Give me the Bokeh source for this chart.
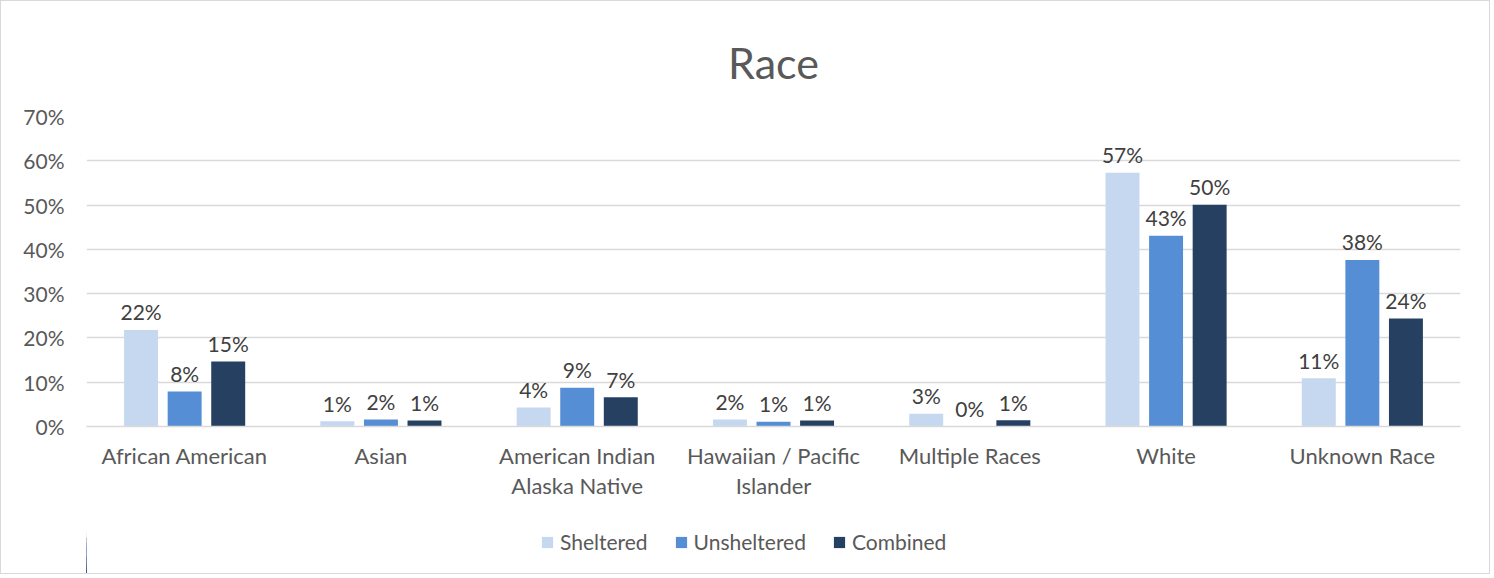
from bokeh.plotting import figure
from bokeh.layouts import column
from bokeh.models import (ColumnDataSource, Range1d, NumeralTickFormatter,
                          Legend, LegendItem, FixedTicker, LinearAxis)
from bokeh.transform import dodge
from bokeh.core.properties import value
from bokeh.embed import file_html
from bokeh.resources import INLINE

categories = ["African American", "Asian", "American Indian Alaska Native",
              "Hawaiian / Pacific Islander", "Multiple Races", "White", "Unknown Race"]
label_line1 = ["African American", "Asian", "American Indian",
               "Hawaiian / Pacific", "Multiple Races", "White", "Unknown Race"]
label_line2 = ["", "", "Alaska Native", "Islander", "", "", ""]
sheltered = [0.218, 0.012, 0.043, 0.016, 0.029, 0.573, 0.109]
unsheltered = [0.079, 0.016, 0.0875, 0.011, 0.0, 0.431, 0.376]
combined = [0.147, 0.0135, 0.066, 0.0135, 0.014, 0.501, 0.244]
series_names = ["Sheltered", "Unsheltered", "Combined"]
y_ticks = [0.0, 0.1, 0.2, 0.3, 0.4, 0.5, 0.6, 0.7]

colors = ["#c5d8f0", "#558ed5", "#264061"]
FONT = "Lato"
TXT = "#595959"
BORDER = "1px solid #d9d9d9"

def pct(v):
    return f"{int(v * 100 + 0.5)}%"

# category slot centres on a numeric axis (one unit per category)
centers = [i + 0.5 for i in range(len(categories))]

src = ColumnDataSource(dict(
    cat=categories, pos=centers,
    sheltered=sheltered, unsheltered=unsheltered, combined=combined,
    sheltered_lbl=[pct(v) for v in sheltered],
    unsheltered_lbl=[pct(v) for v in unsheltered],
    combined_lbl=[pct(v) for v in combined],
))

p = figure(width=1490, height=500, x_range=Range1d(0, len(categories)),
           y_range=Range1d(0, 0.7), output_backend="svg", toolbar_location=None,
           x_axis_location=None,
           min_border_left=85, min_border_right=31, min_border_top=115,
           min_border_bottom=73)
p.outline_line_color = None
p.background_fill_color = "white"

p.title.text = "Race"
p.title.align = "center"
p.title.text_font = FONT
p.title.text_font_size = "43px"
p.title.text_font_style = "normal"
p.title.text_color = TXT
p.title.standoff = 58

offsets = [-0.222, 0.0, 0.222]
keys = ["sheltered", "unsheltered", "combined"]
for off, key, col in zip(offsets, keys, colors):
    p.vbar(x=dodge("pos", off), top=key, width=0.173,
           source=src, fill_color=col, line_color=None)
    p.text(x=dodge("pos", off), y=key, text=key + "_lbl", source=src,
           text_align="center", text_baseline="alphabetic", y_offset=-18,
           text_font=value(FONT), text_font_size="21px", text_color="#404040")

p.yaxis.ticker = FixedTicker(ticks=y_ticks)
p.yaxis.formatter = NumeralTickFormatter(format="0%")
p.yaxis.axis_line_color = None
p.yaxis.major_tick_line_color = None
p.yaxis.minor_tick_line_color = None
p.yaxis.major_tick_out = 0
p.yaxis.major_label_text_font = FONT
p.yaxis.major_label_text_font_size = "21px"
p.yaxis.major_label_text_color = TXT
p.yaxis.major_label_standoff = 22

def make_axis(labels, standoff, line_color):
    return LinearAxis(ticker=FixedTicker(ticks=centers),
                      major_label_overrides={c: t for c, t in zip(centers, labels)},
                      axis_line_color=line_color, axis_line_width=1.5,
                      major_tick_line_color=None, minor_tick_line_color=None,
                      major_tick_out=0, major_tick_in=0,
                      major_label_text_font=FONT, major_label_text_font_size="22px",
                      major_label_text_color=TXT, major_label_standoff=standoff)

p.add_layout(make_axis(label_line1, 15, "#d9d9d9"), "below")
p.add_layout(make_axis(label_line2, 0, None), "below")

p.xgrid.grid_line_color = None
p.ygrid.grid_line_color = "#d9d9d9"
p.ygrid.grid_line_width = 1.5
p.styles = {"border-top": BORDER, "border-left": BORDER, "border-right": BORDER}

# legend strip below the chart; its series renderers lie outside its view
leg = figure(width=1490, height=74, x_range=Range1d(100, 101), y_range=Range1d(0, 1),
             output_backend="svg", toolbar_location=None,
             x_axis_location=None, y_axis_location=None, min_border=0)
leg.outline_line_color = None
leg.xgrid.grid_line_color = None
leg.ygrid.grid_line_color = None
leg_renderers = [leg.vbar(x="pos", top=key, width=0.173, source=src,
                          fill_color=c, line_color=None)
                 for key, c in zip(keys, colors)]
legend = Legend(items=[LegendItem(label=n, renderers=[r])
                       for n, r in zip(series_names, leg_renderers)],
                orientation="horizontal", location=(454, 20),
                label_text_font=FONT, label_text_font_size="21px", label_text_color=TXT,
                glyph_width=14, glyph_height=14, label_standoff=6, spacing=26,
                padding=0, margin=0, border_line_color=None, background_fill_alpha=0)
leg.add_layout(legend, "center")
leg.styles = {"border-bottom": BORDER, "border-left": BORDER, "border-right": BORDER}

layout = column(p, leg, spacing=0)

open("out.html", "w").write(file_html(layout, INLINE))
